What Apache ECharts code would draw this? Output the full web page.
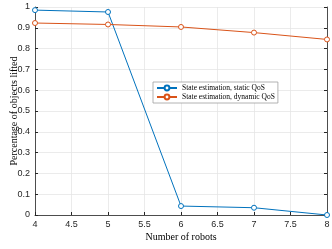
<!DOCTYPE html>
<html><head><meta charset="utf-8">
<script src="https://cdn.jsdelivr.net/npm/echarts@6/dist/echarts.min.js"></script>
<style>html,body{margin:0;padding:0;background:#fff}#c{width:332px;height:249px}</style>
</head><body><div id="c"></div>
<script>
const robots = [4, 5, 6, 7, 8];
const staticQoS = [0.985, 0.976, 0.043, 0.035, 0.0];
const dynamicQoS = [0.923, 0.916, 0.904, 0.877, 0.844];
const seriesNames = ['State estimation, static QoS', 'State estimation, dynamic QoS'];
const xLabel = 'Number of robots';
const yLabel = 'Percentage of objects lifted';

const chart = echarts.init(document.getElementById('c'), null, {renderer: 'canvas'});
const tickFont = {fontFamily: 'Liberation Sans', fontSize: 9, color: '#262626'};
const mk = (vals) => robots.map((r, i) => [r, vals[i]]);
chart.setOption({
  animation: false,
  grid: {left: 35, right: 5, top: 7, bottom: 34, containLabel: false, outerBoundsMode: 'none', show: false},
  legend: {
    data: seriesNames, orient: 'vertical', left: 153, top: 82,
    backgroundColor: '#fff', borderColor: '#a0a0a0', borderWidth: 0.8,
    padding: [2, 3, 2, 3], itemGap: 1, itemWidth: 20, itemHeight: 6,
    textStyle: {fontFamily: 'Liberation Serif', fontSize: 7.5, color: '#000'}
  },
  xAxis: {
    type: 'value', min: 4, max: 8, interval: 0.5,
    name: xLabel, nameLocation: 'middle', nameGap: 17, nameMoveOverlap: false,
    nameTextStyle: {fontFamily: 'Liberation Serif', fontSize: 10, color: '#000'},
    axisLine: {lineStyle: {color: '#262626', width: 0.8}},
    axisTick: {inside: true, length: 3, lineStyle: {color: '#262626'}},
    axisLabel: Object.assign({margin: 5}, tickFont),
    splitLine: {show: true, lineStyle: {color: '#e6e6e6', width: 0.8}}
  },
  yAxis: [{
    type: 'value', min: 0, max: 1, interval: 0.1,
    name: yLabel, nameLocation: 'middle', nameGap: 16, nameMoveOverlap: false,
    nameTextStyle: {fontFamily: 'Liberation Serif', fontSize: 10, color: '#000'},
    axisLine: {lineStyle: {color: '#262626', width: 0.8}},
    axisTick: {inside: true, length: 3, lineStyle: {color: '#262626'}},
    axisLabel: Object.assign({margin: 5, formatter: v => String(+v.toFixed(1))}, tickFont),
    splitLine: {show: true, lineStyle: {color: '#e6e6e6', width: 0.8}}
  }, {
    type: 'value', position: 'right', min: 0, max: 1, interval: 0.1,
    axisLine: {show: true, lineStyle: {color: '#262626', width: 0.8}},
    axisTick: {show: true, inside: true, length: 3, lineStyle: {color: '#262626'}},
    axisLabel: {show: false}, splitLine: {show: false}
  }],
  series: [
    {name: seriesNames[0], type: 'line', data: mk(staticQoS), symbol: 'circle', symbolSize: 5,
     itemStyle: {color: '#fff', borderColor: '#0072BD', borderWidth: 1},
     lineStyle: {color: '#0072BD', width: 1}},
    {name: seriesNames[1], type: 'line', data: mk(dynamicQoS), symbol: 'circle', symbolSize: 5,
     itemStyle: {color: '#fff', borderColor: '#D95319', borderWidth: 1},
     lineStyle: {color: '#D95319', width: 1}}
  ]
});
</script></body></html>
